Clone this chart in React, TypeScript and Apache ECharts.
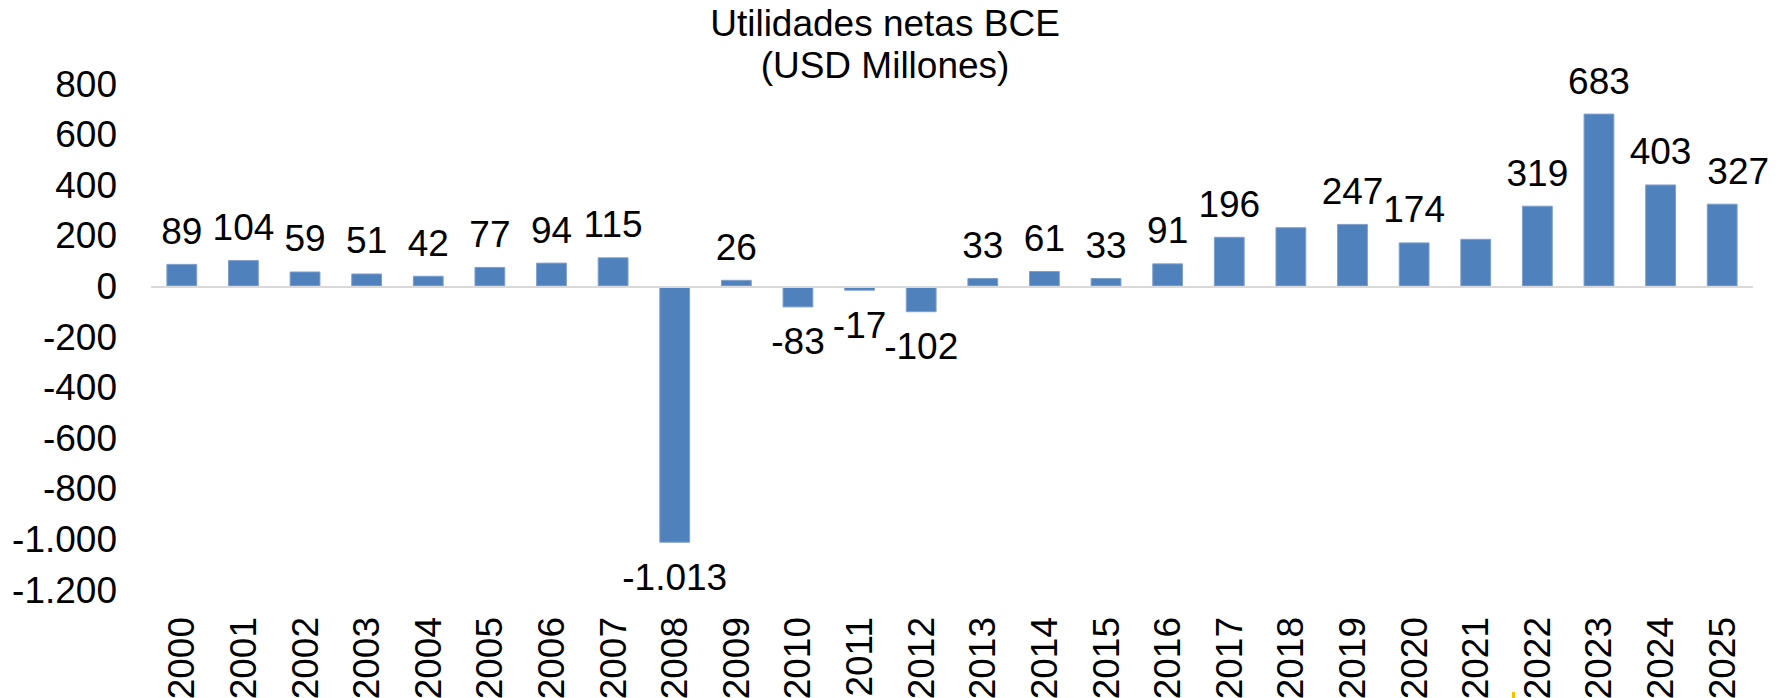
import React, { useEffect, useRef } from "react";
import * as echarts from "echarts";

const titleLines = ["Utilidades netas BCE", "(USD Millones)"];

const years = [
  "2000", "2001", "2002", "2003", "2004", "2005", "2006", "2007", "2008", "2009",
  "2010", "2011", "2012", "2013", "2014", "2015", "2016", "2017", "2018", "2019",
  "2020", "2021", "2022", "2023", "2024", "2025",
];

const values = [
  89, 104, 59, 51, 42, 77, 94, 115, -1013, 26,
  -83, -17, -102, 33, 61, 33, 91, 196, 234, 247,
  174, 188, 319, 683, 403, 327,
];

// Years whose bars carry no data label in the reference
const unlabeledYears = ["2018", "2021"];
// Labels nudged sideways in the reference (px)
const labelShiftX: Record<string, number> = { "2025": 16 };

const yMin = -1200;
const yMax = 800;
const yStep = 200;

const FONT = "'Liberation Sans', Arial, Helvetica, sans-serif";
const FS = 37;

function fmt(v: number): string {
  const s = Math.abs(Math.round(v))
    .toString()
    .replace(/\B(?=(\d{3})+(?!\d))/g, ".");
  return (v < 0 ? "-" : "") + s;
}

export default function App() {
  const ref = useRef<HTMLDivElement>(null);

  useEffect(() => {
    document.body.style.margin = "0";
    if (!ref.current) return;
    const chart = echarts.init(ref.current, null, { renderer: "svg" });

    const seriesData = values.map((v, i) => ({
      value: v,
      label: {
        show: !unlabeledYears.includes(years[i]),
        position: v < 0 ? "bottom" : "top",
        distance: v < 0 ? 16 : 14,
        offset: [labelShiftX[years[i]] || 0, 0],
      },
    }));

    chart.setOption({
      animation: false,
      backgroundColor: "#ffffff",
      title: {
        text: titleLines.join("\n"),
        left: 885,
        top: 2,
        textAlign: "center",
        padding: 0,
        textStyle: {
          fontSize: FS,
          fontWeight: "normal",
          color: "#000000",
          lineHeight: 42,
          fontFamily: FONT,
        },
      },
      grid: {
        left: 151,
        right: 38,
        top: 84,
        bottom: 108,
        containLabel: false,
        outerBoundsMode: "none",
      },
      xAxis: {
        type: "category",
        data: years,
        position: "bottom",
        axisLine: { show: false, onZero: false },
        axisTick: { show: false },
        splitLine: { show: false },
        axisLabel: {
          rotate: 90,
          margin: 27,
          fontSize: FS,
          color: "#000000",
          fontFamily: FONT,
          interval: 0,
        },
      },
      yAxis: {
        type: "value",
        min: yMin,
        max: yMax,
        interval: yStep,
        axisLine: { show: false },
        axisTick: { show: false },
        splitLine: { show: false },
        axisLabel: {
          margin: 34,
          fontSize: FS,
          color: "#000000",
          fontFamily: FONT,
          formatter: (v: number) => fmt(v),
        },
      },
      series: [
        {
          type: "bar",
          data: seriesData,
          barWidth: "50%",
          itemStyle: {
            color: "#4F81BD",
            borderColor: "#7f9fcc",
            borderWidth: 1,
          },
          label: {
            show: true,
            fontSize: FS,
            color: "#000000",
            fontFamily: FONT,
            formatter: (p: any) => fmt(p.value),
          },
          markLine: {
            silent: true,
            symbol: ["none", "none"],
            label: { show: false },
            lineStyle: { color: "#d9d9d9", width: 2, type: "solid" },
            emphasis: { disabled: true },
            data: [{ yAxis: 0 }],
          },
        },
      ],
      graphic: [
        {
          type: "rect",
          shape: { x: 1512, y: 692, width: 3, height: 6 },
          style: { fill: "#f2c200" },
          silent: true,
        },
      ],
    });

    return () => {
      chart.dispose();
    };
  }, []);

  return <div ref={ref} style={{ width: 1791, height: 698 }} />;
}
